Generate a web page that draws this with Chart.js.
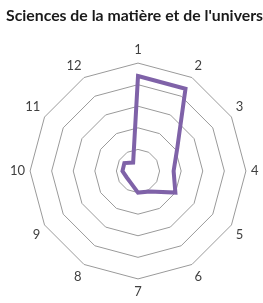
<!DOCTYPE html>
<html>
<head>
<meta charset="utf-8">
<script src="https://cdn.jsdelivr.net/npm/chart.js@4"></script>
<style>
html,body{margin:0;padding:0;background:#fff;}
#wrap{width:263px;height:303px;position:relative;}
</style>
</head>
<body>
<div id="wrap"><canvas id="c" width="263" height="303"></canvas></div>
<script>
const titleText = "Sciences de la matière et de l'univers";
const categories = ["1","2","3","4","5","6","7","8","9","10","11","12"];
const seriesValues = [4.4, 4.4, 2.1, 1.65, 2.0, 1.1, 1.0, 0.65, 0.6, 0.72, 0.73, 0.45];
const scaleMax = 5;

new Chart(document.getElementById('c'), {
  type: 'radar',
  data: {
    labels: categories,
    datasets: [{
      data: seriesValues,
      borderColor: '#7F62A8',
      borderWidth: 4,
      fill: false,
      pointRadius: 0,
      pointHoverRadius: 0,
      tension: 0,
      borderJoinStyle: 'miter'
    }]
  },
  options: {
    responsive: false,
    animation: false,
    devicePixelRatio: 1,
    layout: { padding: { left: 6, right: 0, top: 0, bottom: 0 } },
    plugins: {
      legend: { display: false },
      tooltip: { enabled: false },
      title: {
        display: true,
        text: titleText,
        color: '#1a1a1a',
        font: { family: 'Lato', size: 16, weight: 'bold' },
        padding: { top: 6, bottom: 15 }
      }
    },
    scales: {
      r: {
        min: 0,
        max: scaleMax,
        ticks: { display: false, stepSize: 1 },
        angleLines: { display: false },
        grid: { color: '#9a9a9a', lineWidth: 1, circular: false },
        pointLabels: {
          color: '#404040',
          font: { family: 'Lato', size: 13 },
          padding: 5
        }
      }
    }
  }
});
</script>
</body>
</html>
